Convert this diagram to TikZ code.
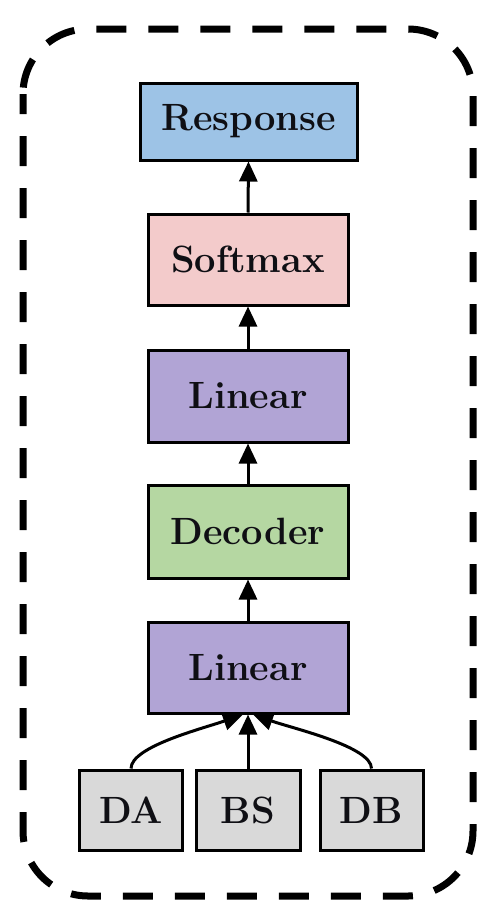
\documentclass[tikz,border=0pt]{standalone}
\usepackage{fontspec}
\usetikzlibrary{arrows.meta}
\definecolor{respc}{RGB}{157,195,230}
\definecolor{softc}{RGB}{243,203,203}
\definecolor{linc}{RGB}{177,164,213}
\definecolor{decc}{RGB}{181,215,162}
\definecolor{inpc}{RGB}{217,217,217}
\definecolor{txtc}{RGB}{15,15,20}
\begin{document}
\begin{tikzpicture}[x=1pt,y=1pt,
  blk/.style={draw=black,line width=3pt,inner sep=0pt,minimum width=200pt,minimum height=91pt,
    font=\fontsize{38}{42}\selectfont\bfseries,text=txtc},
  inbox/.style={blk,fill=inpc,minimum width=103pt,minimum height=80pt},
  arr/.style={line width=3pt,-{Triangle[width=18pt,length=20pt]}}]
\useasboundingbox (0,0) rectangle (478,-903);
\draw[line width=7pt,dash pattern=on 30pt off 22pt,rounded corners=65pt,dash phase=10pt]
  (23,-29) rectangle (473,-896);
\node[blk,fill=respc,minimum width=217pt,minimum height=77pt] (resp) at (248.5,-121.5) {Response};
\node[blk,fill=softc] (soft) at (248,-259.5) {Softmax};
\node[blk,fill=linc,minimum height=92pt] (lin1) at (248,-396) {Linear};
\node[blk,fill=decc,minimum height=93pt] (dec) at (248,-531.5) {Decoder};
\node[blk,fill=linc] (lin2) at (248,-667.5) {Linear};
\node[inbox] (da) at (131,-810) {DA};
\node[inbox,minimum width=104pt] (bs) at (248,-810) {BS};
\node[inbox] (db) at (371.5,-810) {DB};
\draw[arr] (soft.north) -- (resp.south);
\draw[arr] (lin1.north) -- (soft.south);
\draw[arr] (dec.north) -- (lin1.south);
\draw[arr] (lin2.north) -- (dec.south);
\draw[arr] (bs.north) -- (lin2.south);
\draw[arr] (da.north) .. controls +(0,22) and +(-40,-14) .. ([xshift=-5pt]lin2.south);
\draw[arr] (db.north) .. controls +(0,22) and +(40,-14) .. ([xshift=5pt]lin2.south);
\end{tikzpicture}
\end{document}
